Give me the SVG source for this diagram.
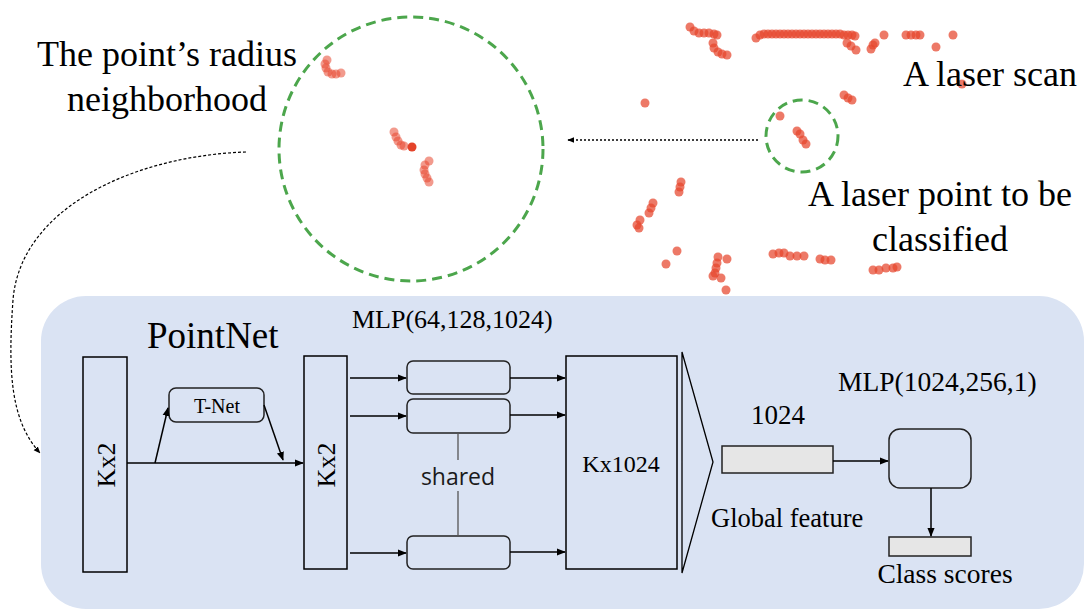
<svg xmlns="http://www.w3.org/2000/svg" width="1084" height="610" viewBox="0 0 1084 610">
<defs>
<style>
.t{font-family:"Liberation Serif","Times New Roman",serif;fill:#000}
.s{font-family:"Open Sans","Liberation Sans",sans-serif;fill:#1a1a1a}
.box{fill:none;stroke:#000;stroke-width:1.5}
.rb{fill:none;stroke:#222;stroke-width:1.5}
.ln{fill:none;stroke:#000;stroke-width:1.5}
.gr{fill:#e6e6e6;stroke:#222;stroke-width:1.5}
.pt{fill:#e6452d;fill-opacity:0.72}
.pn{fill:#e8472f;fill-opacity:0.55}
.g{fill:none;stroke:#4ca64c;stroke-width:3;stroke-dasharray:10 6}
</style>
<marker id="ah" viewBox="0 0 10 10" refX="9" refY="5" markerWidth="7" markerHeight="7" orient="auto" markerUnits="userSpaceOnUse">
<path d="M0,1 L10,5 L0,9 z" fill="#000"/>
</marker>
<marker id="ah2" viewBox="0 0 10 10" refX="9" refY="5" markerWidth="9" markerHeight="9" orient="auto" markerUnits="userSpaceOnUse">
<path d="M0,1 L10,5 L0,9 z" fill="#000"/>
</marker>
</defs>
<rect width="1084" height="610" fill="#fff"/>
<g id="panel">
<rect x="41" y="296" width="1043" height="313" rx="45" fill="#dae3f3"/>
</g>
<g id="neighborhood">
<circle cx="411" cy="149" r="132" class="g"/>
<g class="pn">
<circle cx="327" cy="60" r="4.5"/><circle cx="325" cy="64" r="4.5"/><circle cx="326" cy="68" r="4.5"/><circle cx="328" cy="72" r="4.5"/><circle cx="332" cy="74" r="4.5"/><circle cx="336" cy="74" r="4.5"/><circle cx="341" cy="73" r="4.5"/>
<circle cx="394" cy="132" r="4.5"/><circle cx="396" cy="137" r="4.5"/><circle cx="398" cy="141" r="4.5"/><circle cx="401" cy="145" r="4.5"/><circle cx="404" cy="146" r="4.5"/>
<circle cx="429" cy="161" r="4.5"/><circle cx="425" cy="165" r="4.5"/><circle cx="424" cy="170" r="4.5"/><circle cx="425" cy="174" r="4.5"/><circle cx="427" cy="178" r="4.5"/><circle cx="429" cy="182" r="4.5"/>
</g>
<circle cx="412" cy="147" r="4.5" fill="#e4432a"/>
<text class="t" font-size="36" x="167" y="66" text-anchor="middle">The point’s radius</text>
<text class="t" font-size="36" x="167" y="111" text-anchor="middle">neighborhood</text>
</g>
<g id="scan">
<g class="pt">
<circle cx="690" cy="27" r="4.5"/><circle cx="694" cy="31" r="4.5"/><circle cx="699" cy="33" r="4.5"/><circle cx="704" cy="33" r="4.5"/><circle cx="709" cy="33" r="4.5"/><circle cx="714" cy="34" r="4.5"/><circle cx="717" cy="35" r="4.5"/>
<circle cx="713" cy="43" r="4.5"/><circle cx="714" cy="48" r="4.5"/><circle cx="718" cy="52" r="4.5"/><circle cx="722" cy="54" r="4.5"/><circle cx="727" cy="55" r="4.5"/>
<circle cx="756" cy="38" r="4.5"/><circle cx="760" cy="35" r="4.5"/><circle cx="764" cy="34" r="4.5"/><circle cx="768" cy="34" r="4.5"/><circle cx="772" cy="34" r="4.5"/><circle cx="776" cy="34" r="4.5"/><circle cx="780" cy="34" r="4.5"/><circle cx="784" cy="34" r="4.5"/><circle cx="788" cy="34" r="4.5"/><circle cx="792" cy="34" r="4.5"/><circle cx="796" cy="34" r="4.5"/><circle cx="800" cy="34" r="4.5"/><circle cx="804" cy="34" r="4.5"/><circle cx="808" cy="34" r="4.5"/><circle cx="812" cy="34" r="4.5"/><circle cx="816" cy="34" r="4.5"/><circle cx="820" cy="34" r="4.5"/><circle cx="824" cy="34" r="4.5"/><circle cx="828" cy="34" r="4.5"/><circle cx="832" cy="34" r="4.5"/><circle cx="836" cy="34" r="4.5"/><circle cx="840" cy="34" r="4.5"/><circle cx="844" cy="35" r="4.5"/><circle cx="848" cy="35" r="4.5"/><circle cx="852" cy="35" r="4.5"/><circle cx="855" cy="36" r="4.5"/>
<circle cx="847" cy="43" r="4.5"/><circle cx="851" cy="46" r="4.5"/><circle cx="856" cy="50" r="4.5"/>
<circle cx="871" cy="49" r="4.5"/><circle cx="873" cy="45" r="4.5"/><circle cx="875" cy="43" r="4.5"/>
<circle cx="884" cy="35" r="4.5"/>
<circle cx="906" cy="35" r="4.5"/><circle cx="911" cy="35" r="4.5"/><circle cx="916" cy="35" r="4.5"/><circle cx="920" cy="35" r="4.5"/>
<circle cx="936" cy="47" r="4.5"/><circle cx="953" cy="35" r="4.5"/><circle cx="962" cy="84" r="4.5"/>
<circle cx="645" cy="103" r="4.5"/>
<circle cx="844" cy="95" r="4.5"/><circle cx="848" cy="98" r="4.5"/><circle cx="852" cy="100" r="4.5"/>
<circle cx="780" cy="116" r="4.5"/><circle cx="797" cy="131" r="4.5"/><circle cx="800" cy="134" r="4.5"/><circle cx="803" cy="140" r="4.5"/><circle cx="806" cy="144" r="4.5"/>
<circle cx="681" cy="182" r="4.5"/><circle cx="680" cy="187" r="4.5"/><circle cx="679" cy="192" r="4.5"/>
<circle cx="653" cy="203" r="4.5"/><circle cx="651" cy="208" r="4.5"/><circle cx="649" cy="213" r="4.5"/><circle cx="640" cy="220" r="4.5"/><circle cx="637" cy="225" r="4.5"/><circle cx="639" cy="228" r="4.5"/>
<circle cx="677" cy="251" r="4.5"/><circle cx="666" cy="264" r="4.5"/>
<circle cx="718" cy="257" r="4.5"/><circle cx="717" cy="263" r="4.5"/><circle cx="716" cy="268" r="4.5"/><circle cx="715" cy="273" r="4.5"/><circle cx="713" cy="276" r="4.5"/><circle cx="721" cy="278" r="4.5"/><circle cx="727" cy="259" r="4.5"/><circle cx="726" cy="290" r="4.5"/>
<circle cx="773" cy="254" r="4.5"/><circle cx="779" cy="253" r="4.5"/><circle cx="784" cy="253" r="4.5"/><circle cx="790" cy="256" r="4.5"/><circle cx="797" cy="256" r="4.5"/><circle cx="804" cy="256" r="4.5"/>
<circle cx="820" cy="259" r="4.5"/><circle cx="825" cy="260" r="4.5"/><circle cx="831" cy="260" r="4.5"/>
<circle cx="873" cy="270" r="4.5"/><circle cx="879" cy="270" r="4.5"/><circle cx="886" cy="268" r="4.5"/><circle cx="893" cy="268" r="4.5"/><circle cx="897" cy="267" r="4.5"/>
</g>
<circle cx="802" cy="136" r="36" class="g"/>
<text class="t" font-size="36" x="1077" y="86" text-anchor="end">A laser scan</text>
<text class="t" font-size="36" x="940" y="206" text-anchor="middle">A laser point to be</text>
<text class="t" font-size="36" x="940" y="251" text-anchor="middle">classified</text>
</g>
<g id="input">
<rect x="83" y="357" width="44" height="215" class="box"/>
<text class="t" font-size="26" transform="translate(115,465) rotate(-90)" text-anchor="middle">Kx2</text>
</g>
<text class="t" font-size="37" x="147" y="348">PointNet</text>
<g id="tnet">
<rect x="169" y="388" width="95" height="34" rx="7" class="rb"/>
<text class="t" font-size="20" x="217" y="413" text-anchor="middle">T-Net</text>
</g>
<g id="kx2b">
<rect x="304" y="356" width="43" height="213" class="box"/>
<text class="t" font-size="26" transform="translate(335,465) rotate(-90)" text-anchor="middle">Kx2</text>
</g>
<text class="t" font-size="26" x="352" y="328">MLP(64,128,1024)</text>
<g id="mlp1"><rect x="407" y="361" width="103" height="33" rx="6" class="rb"/></g>
<g id="mlp2"><rect x="407" y="399" width="103" height="34" rx="6" class="rb"/></g>
<g id="mlp3"><rect x="407" y="536" width="103" height="33" rx="6" class="rb"/></g>
<g id="shared">
<line x1="458" y1="433" x2="458" y2="460" stroke="#555" stroke-width="1.3"/>
<line x1="458" y1="491" x2="458" y2="536" stroke="#555" stroke-width="1.3"/>
<text class="s" font-size="23" x="458" y="485" text-anchor="middle">shared</text>
</g>
<g id="kx1024">
<rect x="566" y="356" width="111" height="213" class="box"/>
<text class="t" font-size="24" x="621" y="472" text-anchor="middle">Kx1024</text>
</g>
<g id="maxpool">
<polygon points="682,352 713,462 682,573" fill="none" stroke="#000" stroke-width="1.3"/>
</g>
<g id="global">
<text class="t" font-size="27" x="778" y="424" text-anchor="middle">1024</text>
<rect x="722" y="446" width="111" height="27" class="gr"/>
<text class="t" font-size="26.5" x="711" y="527">Global feature</text>
</g>
<text class="t" font-size="27.5" x="838" y="391">MLP(1024,256,1)</text>
<g id="mlp4"><rect x="889" y="429" width="82" height="59" rx="11" class="rb"/></g>
<g id="scores">
<rect x="889" y="537" width="82" height="19" class="gr"/>
<text class="t" font-size="27.5" x="945" y="583" text-anchor="middle">Class scores</text>
</g>
<g id="connectors">
<line x1="758" y1="140" x2="568" y2="140" stroke="#000" stroke-width="1.5" stroke-dasharray="2 2" marker-end="url(#ah)"/>
<path d="M246,152 C130,156 20,210 13,300 C8,370 10,420 40,453" fill="none" stroke="#000" stroke-width="1.2" stroke-dasharray="3 2" marker-end="url(#ah)"/>
<line x1="127" y1="463" x2="303" y2="463" class="ln" marker-end="url(#ah2)"/>
<line x1="155" y1="463" x2="168" y2="408" class="ln" marker-end="url(#ah2)"/>
<line x1="264" y1="405" x2="283" y2="460" class="ln" marker-end="url(#ah2)"/>
<line x1="350" y1="378" x2="406" y2="378" class="ln" marker-end="url(#ah2)"/>
<line x1="350" y1="416" x2="406" y2="416" class="ln" marker-end="url(#ah2)"/>
<line x1="350" y1="553" x2="406" y2="553" class="ln" marker-end="url(#ah2)"/>
<line x1="510" y1="378" x2="565" y2="378" class="ln" marker-end="url(#ah2)"/>
<line x1="510" y1="415" x2="565" y2="415" class="ln" marker-end="url(#ah2)"/>
<line x1="510" y1="552" x2="565" y2="552" class="ln" marker-end="url(#ah2)"/>
<line x1="833" y1="461" x2="888" y2="461" class="ln" marker-end="url(#ah2)"/>
<line x1="931" y1="488" x2="931" y2="536" class="ln" marker-end="url(#ah2)"/>
</g>
</svg>
